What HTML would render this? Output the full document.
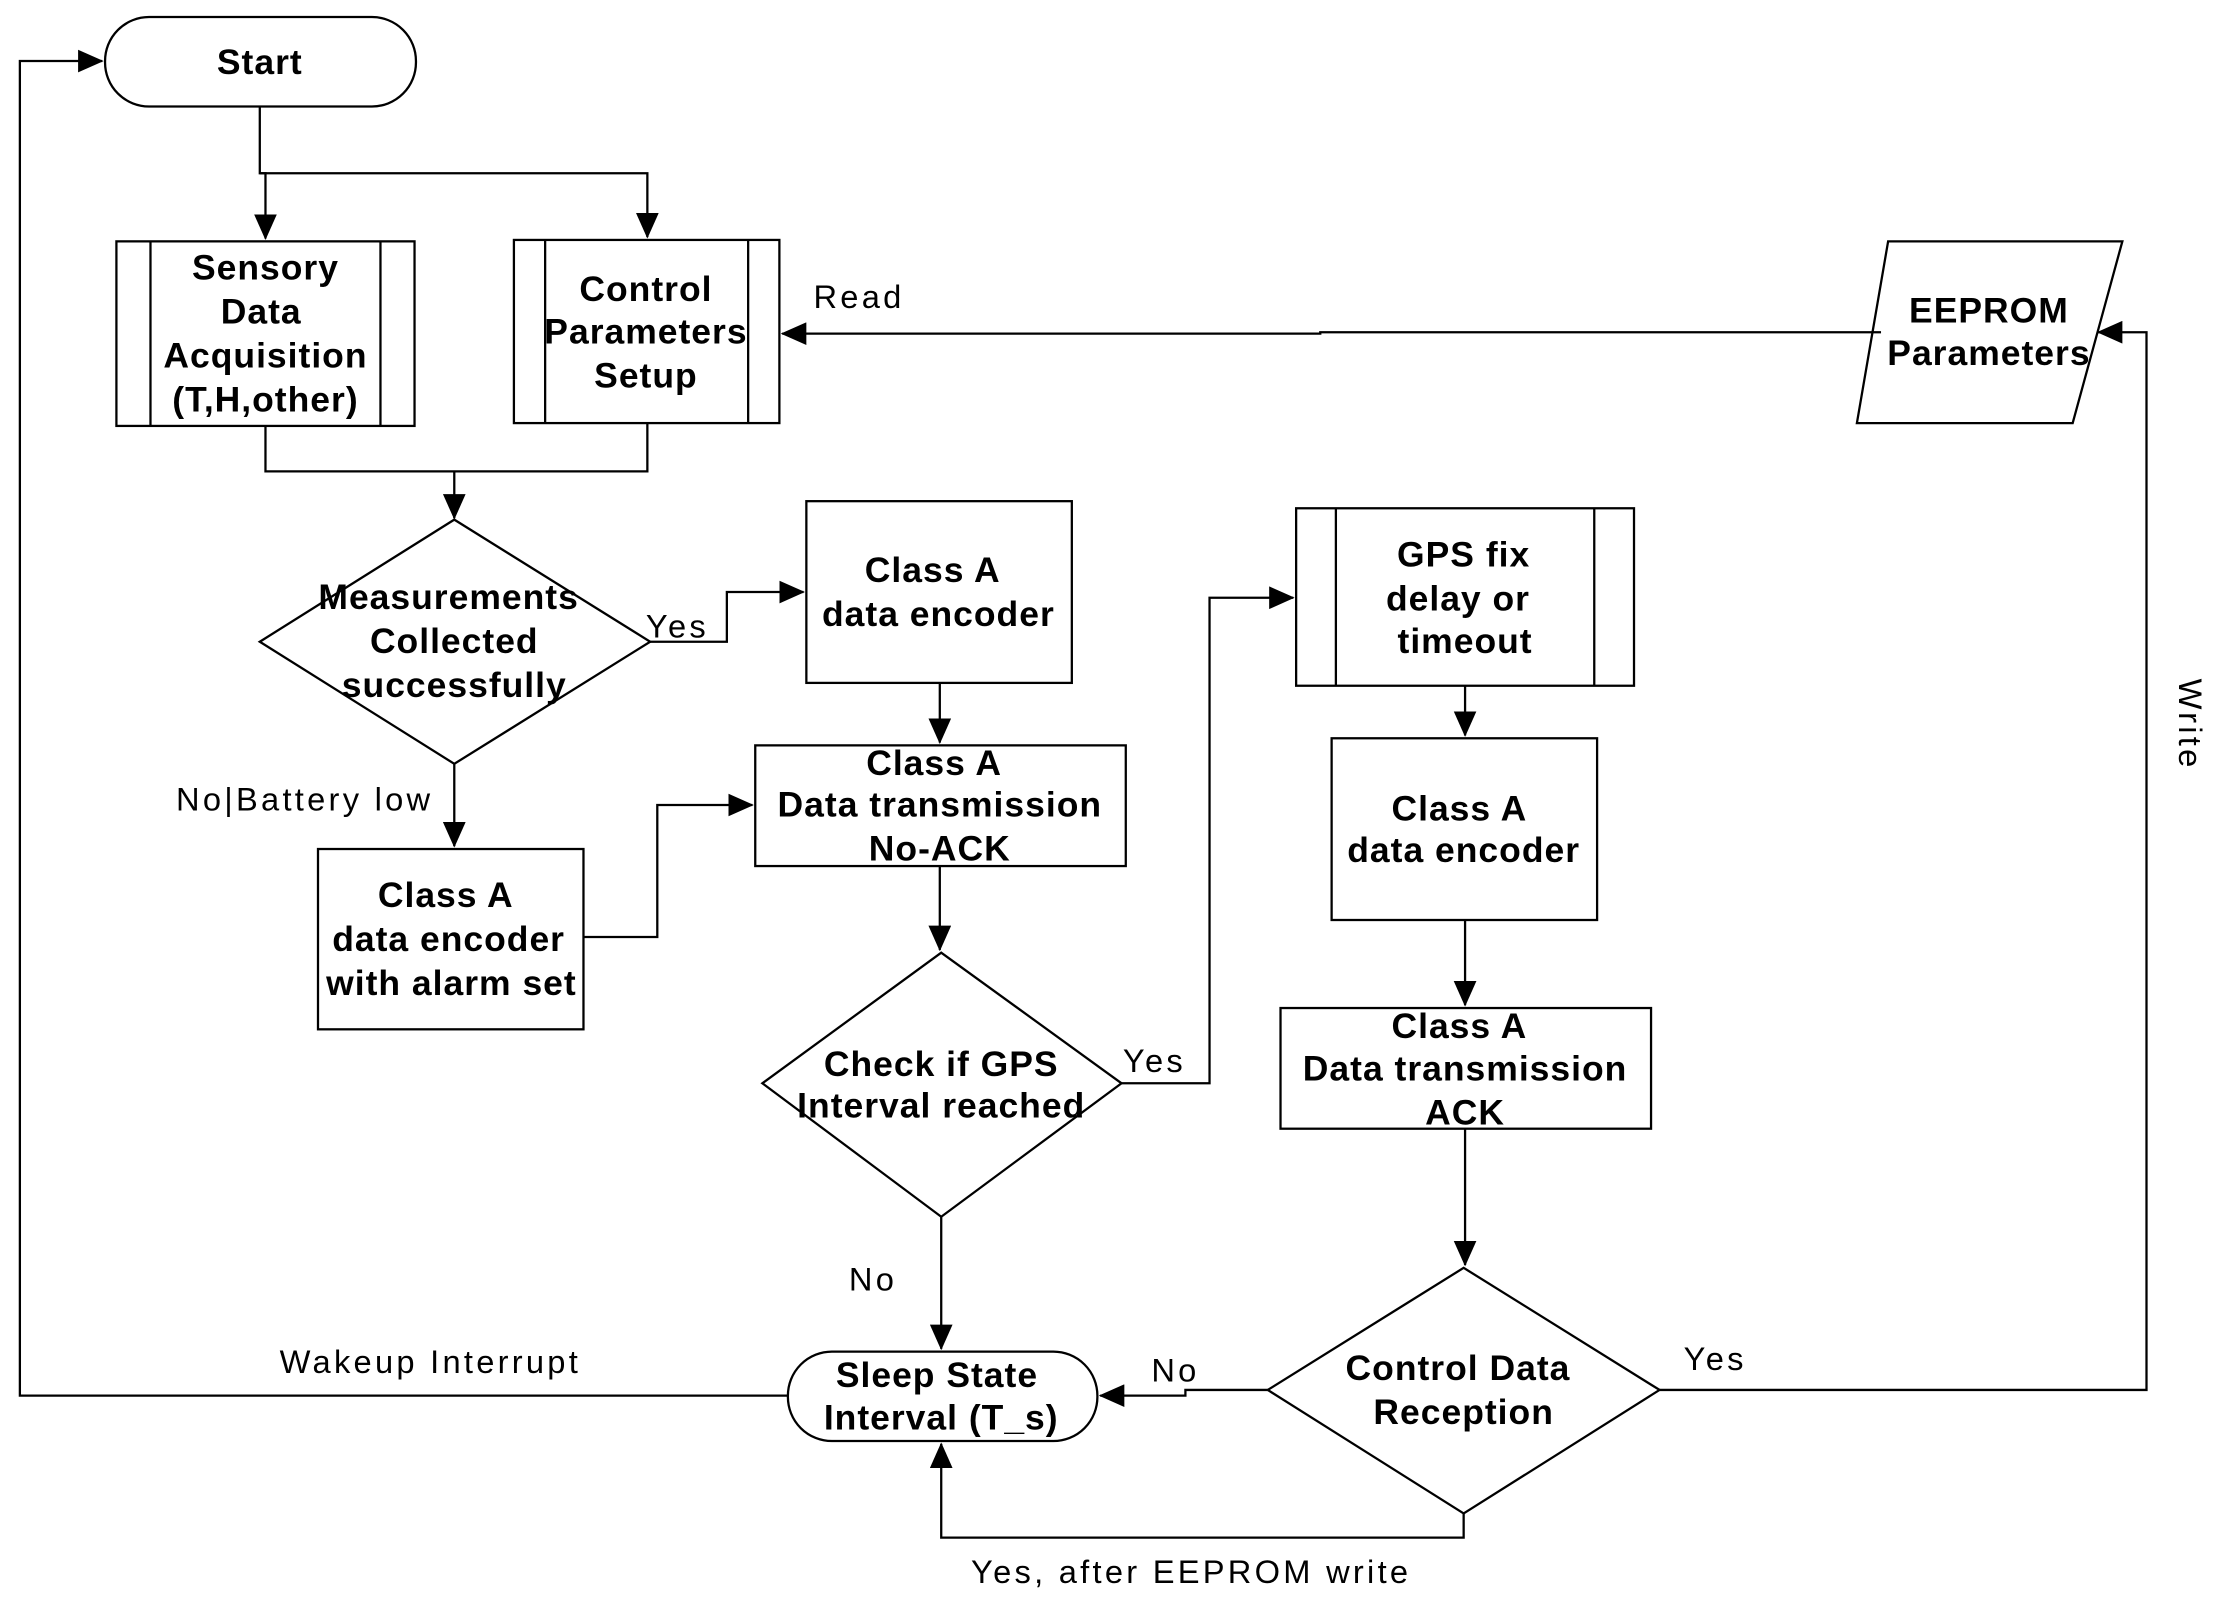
<!DOCTYPE html>
<html><head><meta charset="utf-8"><style>
html,body{margin:0;padding:0;background:#fff;}
svg{display:block;}
text{font-family:"Liberation Sans",sans-serif;fill:#000;}
.b{font-weight:bold;font-size:25px;letter-spacing:0.7px;text-anchor:middle;}
.l{font-size:23px;letter-spacing:2.3px;}
</style></head><body>
<svg width="2226" height="1610" viewBox="0 0 1568 1134" preserveAspectRatio="none" xmlns="http://www.w3.org/2000/svg">
<defs><marker id="A" markerWidth="18" markerHeight="16" refX="17" refY="8" orient="auto" markerUnits="userSpaceOnUse"><path d="M0,0 L18,8 L0,16 z" fill="#000"/></marker></defs>
<g fill="#fff" stroke="#000" stroke-width="1.6">
<rect x="74" y="12" width="219" height="63" rx="31"/>
<rect x="82" y="170" width="210" height="130"/><line x1="106" y1="170" x2="106" y2="300"/><line x1="268" y1="170" x2="268" y2="300"/>
<rect x="362" y="169" width="187" height="129"/><line x1="384" y1="169" x2="384" y2="298"/><line x1="527" y1="169" x2="527" y2="298"/>
<polygon points="1330,170 1495,170 1460,298 1308,298"/>
<polygon points="183,452 320,366 458,452 320,538"/>
<rect x="568" y="353" width="187" height="128"/>
<rect x="532" y="525" width="261" height="85"/>
<rect x="224" y="598" width="187" height="127"/>
<polygon points="537,763 663,671 790,763 663,857"/>
<rect x="913" y="358" width="238" height="125"/><line x1="941" y1="358" x2="941" y2="483"/><line x1="1123" y1="358" x2="1123" y2="483"/>
<rect x="938" y="520" width="187" height="128"/>
<rect x="902" y="710" width="261" height="85"/>
<polygon points="893,979 1031,893 1169,979 1031,1066"/>
<rect x="555" y="952" width="218" height="63" rx="31"/>
</g>
<g fill="none" stroke="#000" stroke-width="1.6">
<polyline points="183,75 183,122 187,122 187,168" marker-end="url(#A)"/>
<polyline points="183,122 456,122 456,167" marker-end="url(#A)"/>
<polyline points="187,300 187,332 456,332 456,298"/>
<polyline points="320,332 320,365" marker-end="url(#A)"/>
<polyline points="458,452 512,452 512,417 566,417" marker-end="url(#A)"/>
<polyline points="662,481 662,523" marker-end="url(#A)"/>
<polyline points="320,538 320,596" marker-end="url(#A)"/>
<polyline points="411,660 463,660 463,567 530,567" marker-end="url(#A)"/>
<polyline points="662,610 662,669" marker-end="url(#A)"/>
<polyline points="790,763 852,763 852,421 911,421" marker-end="url(#A)"/>
<polyline points="663,857 663,950" marker-end="url(#A)"/>
<polyline points="1032,483 1032,518" marker-end="url(#A)"/>
<polyline points="1032,648 1032,708" marker-end="url(#A)"/>
<polyline points="1032,795 1032,891" marker-end="url(#A)"/>
<polyline points="893,979 835,979 835,983 775,983" marker-end="url(#A)"/>
<polyline points="1031,1066 1031,1083 663,1083 663,1017" marker-end="url(#A)"/>
<polyline points="1169,979 1512,979 1512,234 1478,234" marker-end="url(#A)"/>
<polyline points="1325,234 930,234 930,235 551,235" marker-end="url(#A)"/>
<polyline points="555,983 14,983 14,43 72,43" marker-end="url(#A)"/>
</g>
<text class="b" x="183" y="52">Start</text>
<text class="b" x="187" y="197">Sensory</text><text class="b" x="184" y="228">Data</text><text class="b" x="187" y="259">Acquisition</text><text class="b" x="187" y="290">(T,H,other)</text>
<text class="b" x="455" y="212">Control</text><text class="b" x="455" y="242">Parameters</text><text class="b" x="455" y="273">Setup</text>
<text class="b" x="1401" y="227">EEPROM</text><text class="b" x="1401" y="257">Parameters</text>
<text class="b" x="316" y="429">Measurements</text><text class="b" x="320" y="460">Collected</text><text class="b" x="320" y="491">successfully</text>
<text class="b" x="657" y="410">Class A</text><text class="b" x="661" y="441">data encoder</text>
<text class="b" x="658" y="546">Class A</text><text class="b" x="662" y="575">Data transmission</text><text class="b" x="662" y="606">No-ACK</text>
<text class="b" x="314" y="639">Class A</text><text class="b" x="316" y="670">data encoder</text><text class="b" x="318" y="701">with alarm set</text>
<text class="b" x="663" y="758">Check if GPS</text><text class="b" x="663" y="787">Interval reached</text>
<text class="b" x="1031" y="399">GPS fix</text><text class="b" x="1027" y="430">delay or</text><text class="b" x="1032" y="460">timeout</text>
<text class="b" x="1028" y="578">Class A</text><text class="b" x="1031" y="607">data encoder</text>
<text class="b" x="1028" y="731">Class A</text><text class="b" x="1032" y="761">Data transmission</text><text class="b" x="1032" y="792">ACK</text>
<text class="b" x="1027" y="972">Control Data</text><text class="b" x="1031" y="1003">Reception</text>
<text class="b" x="660" y="977">Sleep State</text><text class="b" x="663" y="1007">Interval (T_s)</text>
<text class="l" x="573" y="217">Read</text>
<text class="l" x="455" y="449">Yes</text>
<text class="l" x="124" y="571">No|Battery low</text>
<text class="l" x="791" y="755">Yes</text>
<text class="l" x="598" y="909">No</text>
<text class="l" x="197" y="967">Wakeup Interrupt</text>
<text class="l" x="811" y="973">No</text>
<text class="l" x="1186" y="965">Yes</text>
<text class="l" x="684" y="1115">Yes, after EEPROM write</text>
<text class="l" transform="translate(1535,478) rotate(90)">Write</text>
</svg>
</body></html>
